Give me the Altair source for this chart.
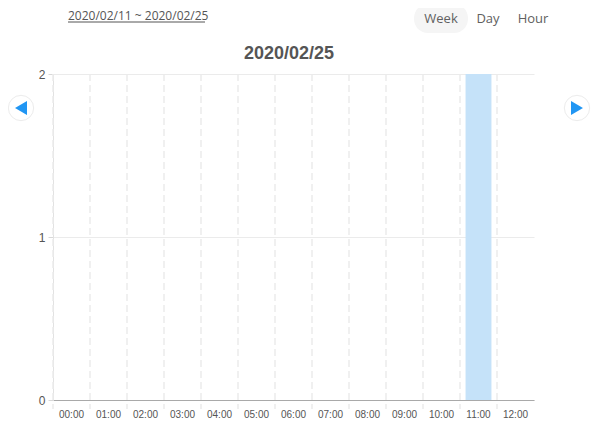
import altair as alt
import pandas as pd

# ---- data ----
hours = ["00:00", "01:00", "02:00", "03:00", "04:00", "05:00", "06:00",
         "07:00", "08:00", "09:00", "10:00", "11:00", "12:00"]
counts = [0, 0, 0, 0, 0, 0, 0, 0, 0, 0, 0, 2, 0]
y_ticks = [0, 1, 2]
title_text = ["2020/02/25"]
range_text = ["2020/02/11 ~ 2020/02/25"]
buttons = ["Week", "Day", "Hour"]

W, H = 481, 326
TEXT = "#555555"

df = pd.DataFrame({"hour": hours, "count": counts})
xscale = alt.Scale(domain=hours, paddingInner=0, paddingOuter=0)
yscale = alt.Scale(domain=[0, 2], nice=False)

x_axis = alt.Axis(title=None, labelAngle=0, ticks=False, grid=False,
                  domainColor="#a9a9a9", labelFontSize=10,
                  labelColor=TEXT, labelPadding=9,
                  labelFont="Liberation Sans")

grid = alt.Chart(df).mark_rule(
    strokeDash=[7, 4], color="#ececec", strokeWidth=1.5
).encode(
    x=alt.X("hour:N", bandPosition=0, scale=xscale, sort=hours, axis=x_axis),
    y=alt.value(0),
    y2=alt.value(H + 9),
)

bars = alt.Chart(df).mark_bar(
    color="#c5e2f9", width=alt.RelativeBandSize(0.7)
).encode(
    x=alt.X("hour:N", scale=xscale, sort=hours, axis=x_axis),
    y=alt.Y("count:Q", scale=yscale,
            axis=alt.Axis(title=None, values=y_ticks, labelExpr="format(datum.value, 'd')",
                          labelOverlap=False, grid=True,
                          gridColor="#ebebeb", domainColor="#e2e2e2",
                          tickColor="#d8d8d8", tickSize=5, labelPadding=3,
                          labelFontSize=12, labelColor=TEXT,
                          labelFont="Liberation Sans")),
)

one = pd.DataFrame({"k": [0]})

title = alt.Chart(pd.DataFrame({"t": title_text})).mark_text(
    fontSize=18, fontWeight="bold", color=TEXT, font="Liberation Sans",
    align="center", baseline="middle"
).encode(x=alt.value(236), y=alt.value(-20), text="t:N")

range_lbl = alt.Chart(pd.DataFrame({"t": range_text})).mark_text(
    fontSize=12, color=TEXT, font="Open Sans", align="left", baseline="middle"
).encode(x=alt.value(15), y=alt.value(-58), text="t:N")

underline = alt.Chart(one).mark_rule(color=TEXT, strokeWidth=1).encode(
    x=alt.value(15), x2=alt.value(152), y=alt.value(-52)
)

pill = alt.Chart(one).mark_rect(color="#f5f5f5", cornerRadius=14).encode(
    x=alt.value(361), x2=alt.value(415), y=alt.value(-70), y2=alt.value(-41)
)

btn_df = pd.DataFrame({"t": buttons, "px": [388, 435, 480]})
btns = alt.Chart(btn_df).mark_text(
    fontSize=13, color="#606060", font="Open Sans", align="center", baseline="middle"
).encode(x=alt.X("px:Q", scale=None), y=alt.value(-55), text="t:N")

arrow_df = pd.DataFrame({"px": [-32, 524], "shape": ["triangle-left", "triangle-right"]})
circles = alt.Chart(arrow_df).mark_point(
    shape="circle", filled=True, fill="white", size=640,
    stroke="#ececec", strokeWidth=1, opacity=1
).encode(x=alt.X("px:Q", scale=None), y=alt.value(34))

tris = alt.Chart(arrow_df).mark_point(
    filled=True, color="#2196f3", size=190, opacity=1
).encode(x=alt.X("px:Q", scale=None), y=alt.value(34),
         shape=alt.Shape("shape:N", scale=None))

chart = alt.layer(
    grid, bars, title, pill, range_lbl, underline, btns, circles, tris
).properties(
    width=W, height=H,
    padding={"left": 45, "top": 66, "right": 57, "bottom": 21},
    autosize=alt.AutoSizeParams(type="none"),
).configure_view(stroke=None)

chart.save("out.html", embed_options={"renderer": "svg", "actions": False})
